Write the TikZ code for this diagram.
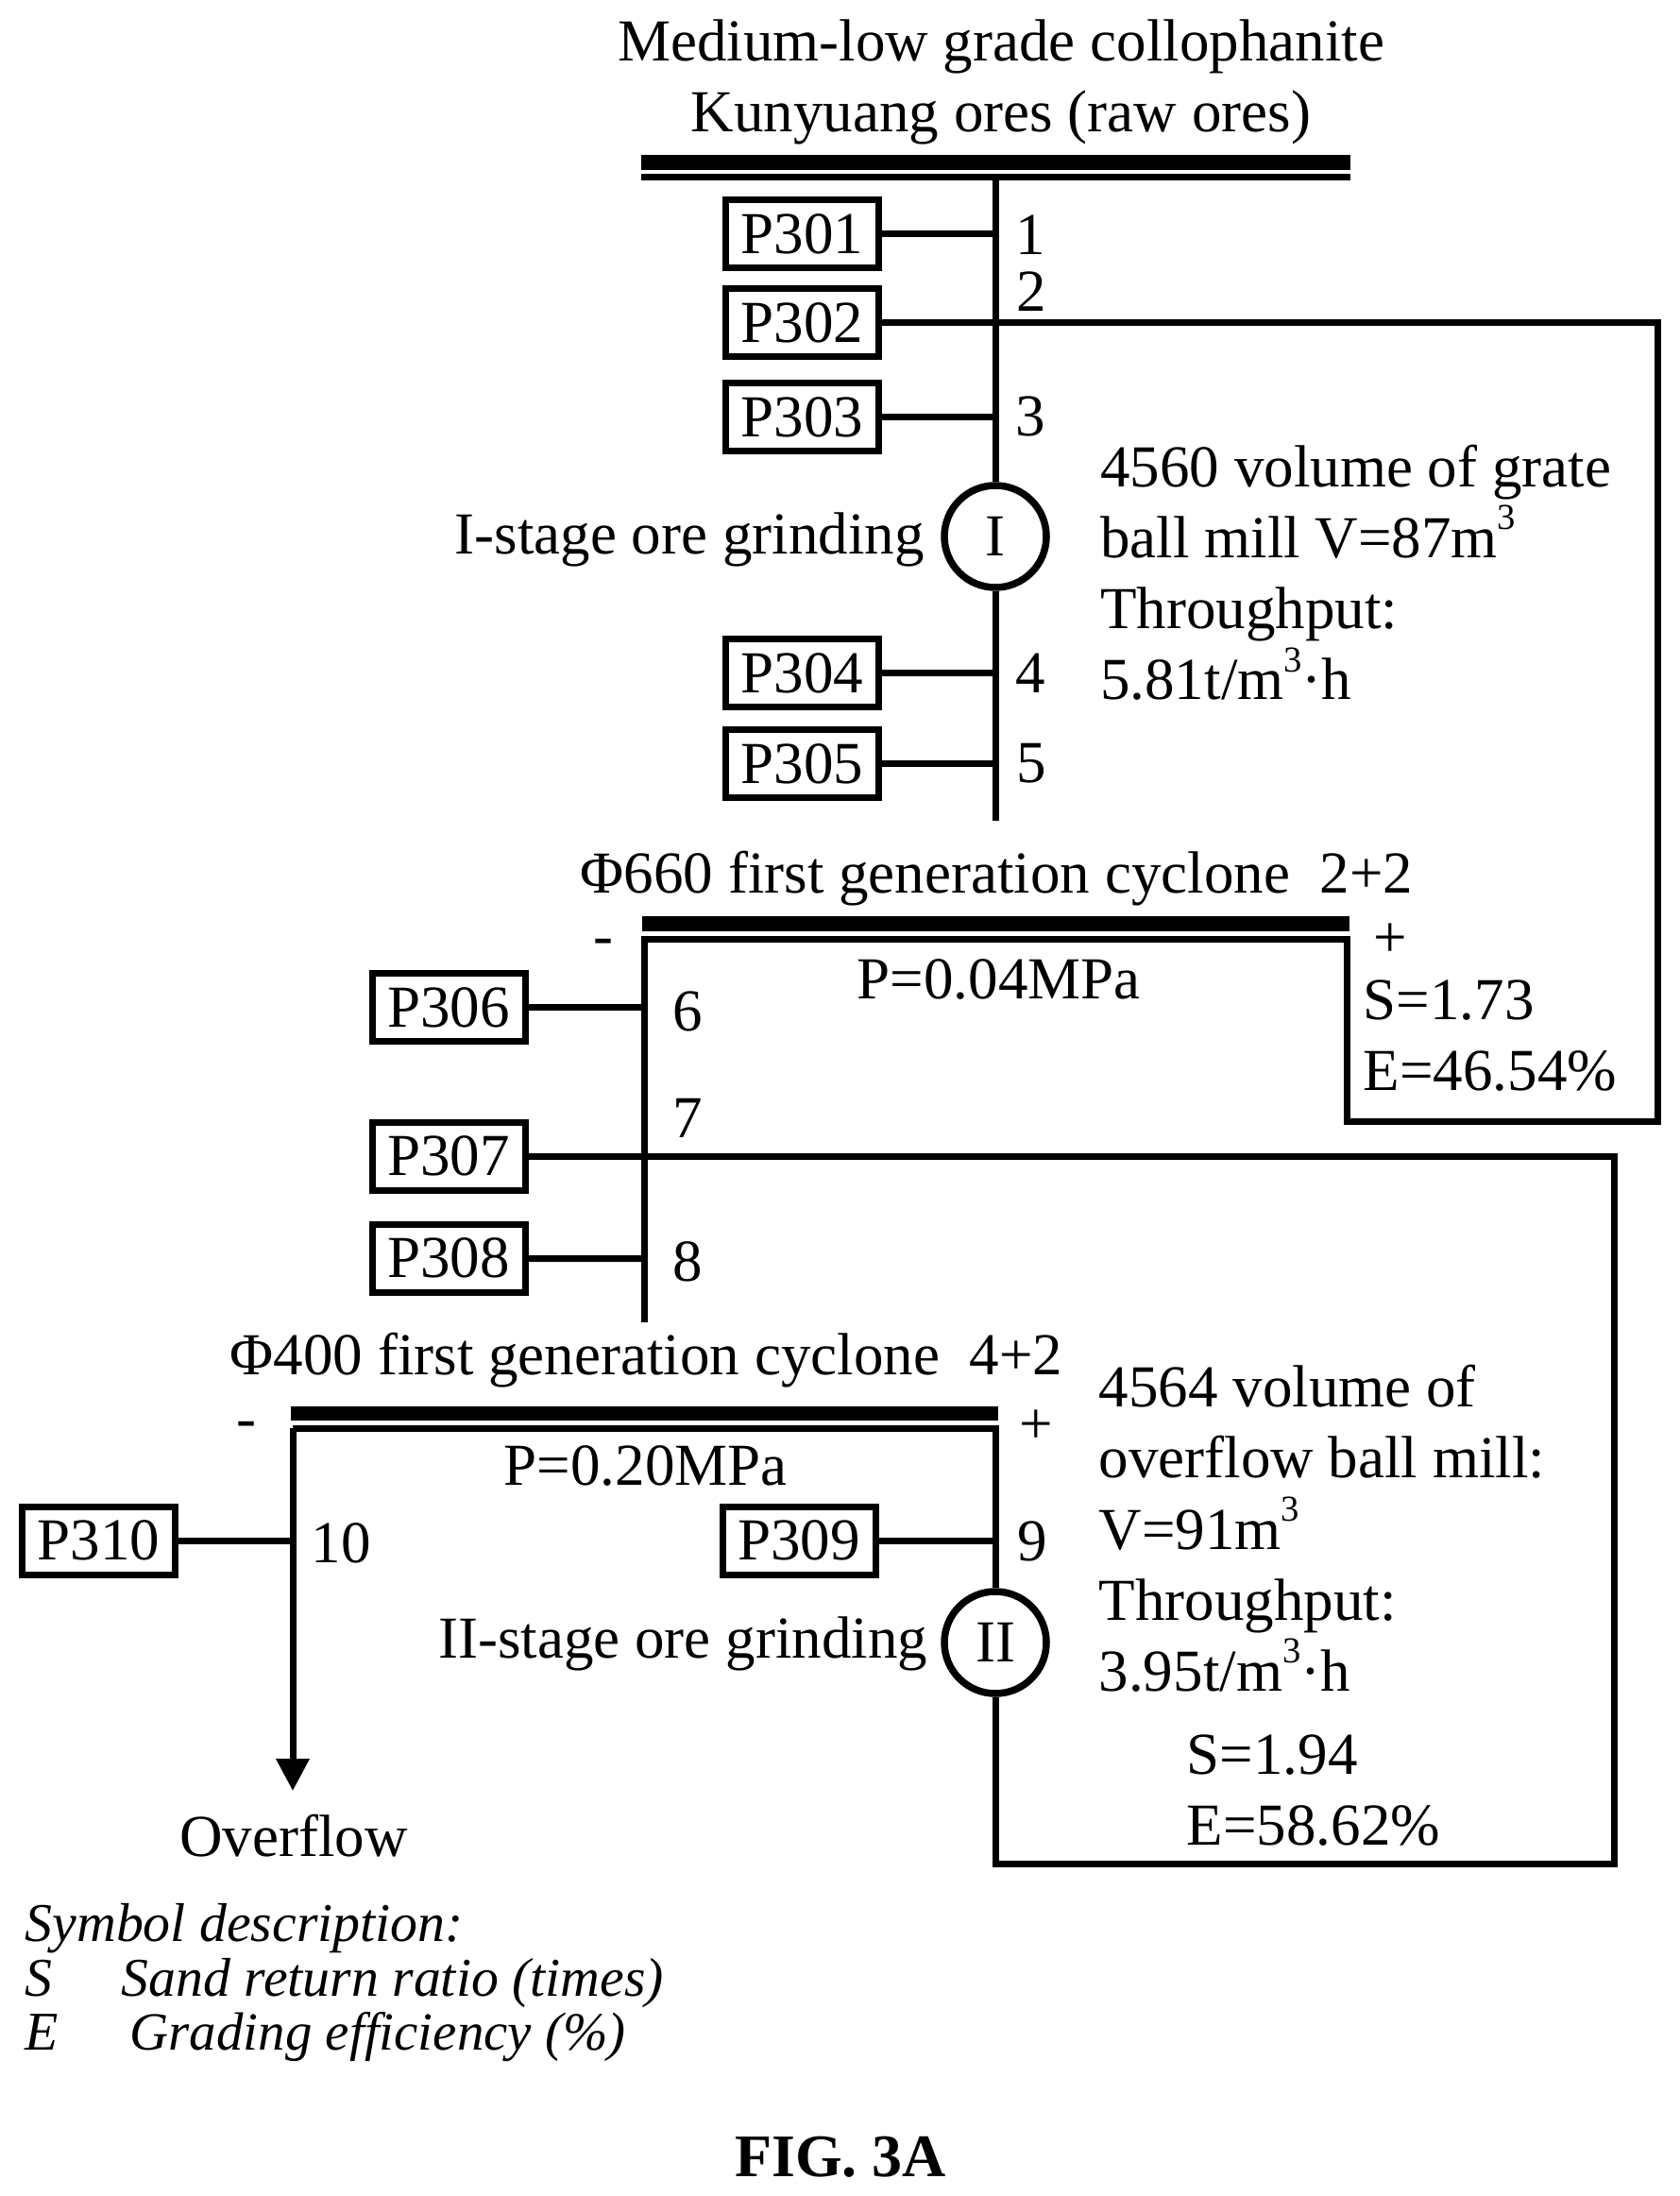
\documentclass[tikz,border=0pt]{standalone}
\usepackage{fontspec}
\setmainfont{Liberation Serif}
\usepackage{tikz}
\usetikzlibrary{arrows.meta,shapes,arrows}
\newcommand{\cubed}{\raisebox{0.47em}{\fontsize{11}{11}\selectfont 3}}

\begin{document}
\begin{tikzpicture}
	\useasboundingbox (0,0) rectangle (17.78,-23.25);
	\tikzstyle{edge}=[line width=0.07cm]
	\tikzstyle{arrow}=[line width=0.07cm,-{Triangle[length=0.34cm,width=0.34cm]}]
	\tikzstyle{busbar}=[line width=0.155cm]
	\tikzstyle{block}=[draw,rectangle,line width=0.07cm,minimum width=1.62cm,minimum height=0.72cm,inner sep=0pt,font=\fontsize{17.93}{21.4}\selectfont]
	\tikzstyle{mill}=[draw,circle,line width=0.075cm,minimum size=1.08cm,inner sep=0pt,font=\fontsize{17.93}{21.4}\selectfont]
	\tikzstyle{lbl}=[inner sep=0pt,anchor=base,font=\fontsize{17.93}{21.4}\selectfont]
	\tikzstyle{lblw}=[inner sep=0pt,anchor=base west,font=\fontsize{17.93}{21.4}\selectfont]
	\tikzstyle{para}=[inner sep=0pt,anchor=north west,align=left,font=\fontsize{17.93}{21.4}\selectfont]
	\tikzstyle{legend}=[inner sep=0pt,anchor=base west,font=\fontsize{16.45}{19}\selectfont\itshape]

	%raw ores
	\node[inner sep=0pt,anchor=north,align=center,font=\fontsize{17.93}{21.4}\selectfont] (raw) at (10.60,-0.20) {Medium-low grade collophanite\\Kunyuang ores (raw ores)};
	\coordinate (B1a) at (6.79,-1.72);
	\coordinate (B1b) at (14.30,-1.72);
	\draw[busbar] (B1a)--(B1b);
	\coordinate (B1c) at (6.79,-1.88);
	\coordinate (B1d) at (14.30,-1.88);
	\draw[edge] (B1c)--(B1d);
	\coordinate (T1) at (10.54,-1.88);
	\coordinate (T2) at (10.54,-8.69);

	%first stage
	\node[block] (P301) at (8.495,-2.48) {P301};
	\node[block] (P302) at (8.495,-3.42) {P302};
	\node[block] (P303) at (8.495,-4.42) {P303};
	\node[block] (P304) at (8.495,-7.125) {P304};
	\node[block] (P305) at (8.495,-8.085) {P305};
	\node[mill] (MI) at (10.54,-5.68) {I};
	\draw[edge] (T1)--(MI);
	\draw[edge] (MI)--(T2);
	\draw[edge] (P301)--(P301-|T1);
	\draw[edge] (P303)--(P303-|T1);
	\draw[edge] (P304)--(P304-|T1);
	\draw[edge] (P305)--(P305-|T1);
	\node[lbl] (n1) at (10.91,-2.70) {1};
	\node[lbl] (n2) at (10.92,-3.295) {2};
	\node[lbl] (n3) at (10.91,-4.62) {3};
	\node[lbl] (n4) at (10.91,-7.34) {4};
	\node[lbl] (n5) at (10.92,-8.28) {5};
	\node[lblw] (stage1) at (4.81,-5.87) {I-stage ore grinding};
	\node[para] (mill1) at (11.645,-4.70) {4560 volume of grate\\ball mill V=87m\cubed\\Throughput:\\5.81t/m\cubed·h};

	%first cyclone
	\node[lblw] (cyc1) at (6.14,-9.45) {Φ660 first generation cyclone\ \ 2+2};
	\coordinate (B2a) at (6.80,-9.78);
	\coordinate (B2b) at (14.29,-9.78);
	\draw[busbar] (B2a)--(B2b);
	\node[lbl] (minus1) at (6.39,-10.11) {-};
	\node[lbl] (plus1) at (14.72,-10.13) {+};
	\node[lblw] (press1) at (9.07,-10.57) {P=0.04MPa};
	\node[para] (se1) at (14.43,-10.37) {S=1.73\\E=46.54\%};
	\coordinate (C1) at (17.55,-3.42);
	\coordinate (C2) at (17.55,-11.87);
	\coordinate (C3) at (14.26,-11.87);
	\coordinate (C4) at (14.26,-9.94);
	\coordinate (C5) at (6.82,-9.94);
	\coordinate (C6) at (6.82,-14.00);
	\draw[edge] (P302)--(C1)--(C2)--(C3)--(C4)--(C5)--(C6);
	\node[block] (P306) at (4.75,-10.665) {P306};
	\node[block] (P307) at (4.75,-12.24) {P307};
	\node[block] (P308) at (4.75,-13.32) {P308};
	\draw[edge] (P306)--(P306-|C5);
	\draw[edge] (P308)--(P308-|C5);
	\node[lbl] (n6) at (7.28,-10.91) {6};
	\node[lbl] (n7) at (7.28,-12.04) {7};
	\node[lbl] (n8) at (7.28,-13.56) {8};

	%second cyclone
	\node[lblw] (cyc2) at (2.43,-14.55) {Φ400 first generation cyclone\ \ 4+2};
	\coordinate (B3a) at (3.075,-14.965);
	\coordinate (B3b) at (10.57,-14.965);
	\draw[busbar] (B3a)--(B3b);
	\node[lbl] (minus2) at (2.61,-15.22) {-};
	\node[lbl] (plus2) at (10.97,-15.28) {+};
	\node[lblw] (press2) at (5.33,-15.72) {P=0.20MPa};
	\node[mill] (MII) at (10.54,-17.39) {II};
	\coordinate (D1) at (17.09,-12.24);
	\coordinate (D2) at (17.09,-19.73);
	\coordinate (D3) at (10.54,-19.73);
	\draw[edge] (P307)--(D1)--(D2)--(D3)--(MII);
	\coordinate (E1) at (10.54,-15.12);
	\coordinate (E2) at (3.10,-15.12);
	\coordinate (E3) at (3.10,-18.96);
	\draw[edge] (MII)--(E1)--(E2);
	\draw[arrow] (E2)--(E3);
	\node[block] (P309) at (8.46,-16.31) {P309};
	\node[block] (P310) at (1.045,-16.31) {P310};
	\draw[edge] (P309)--(P309-|E1);
	\draw[edge] (P310)--(P310-|E2);
	\node[lbl] (n9) at (10.93,-16.52) {9};
	\node[lblw] (n10) at (3.29,-16.54) {10};
	\node[lblw] (stage2) at (4.635,-17.555) {II-stage ore grinding};
	\node[para] (mill2) at (11.63,-14.445) {4564 volume of\\overflow ball mill:\\V=91m\cubed\\Throughput:\\3.95t/m\cubed·h};
	\node[para] (se2) at (12.56,-18.36) {S=1.94\\E=58.62\%};
	\node[lbl] (over) at (3.11,-19.65) {Overflow};

	%symbols
	\node[legend] (sym) at (0.26,-20.55) {Symbol description:};
	\node[legend] (symS) at (0.26,-21.13) {S};
	\node[legend] (symSt) at (1.28,-21.13) {Sand return ratio (times)};
	\node[legend] (symE) at (0.26,-21.70) {E};
	\node[legend,font=\fontsize{16.2}{19}\selectfont\itshape] (symEt) at (1.37,-21.70) {Grading efficiency (\%)};
	\node[lbl,font=\fontsize{18.2}{21.4}\selectfont\bfseries] (fig) at (8.90,-23.04) {FIG. 3A};
\end{tikzpicture}
\end{document}
